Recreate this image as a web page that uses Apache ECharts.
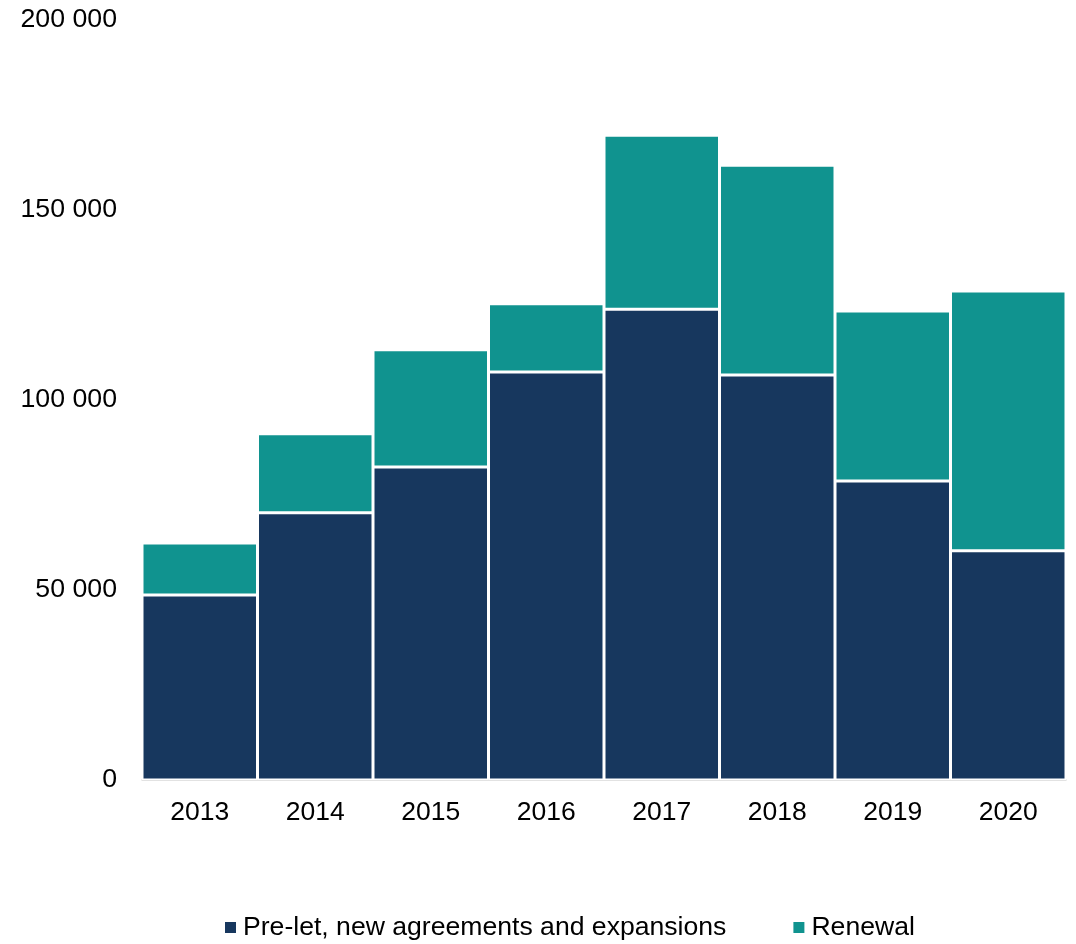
<!DOCTYPE html>
<html>
<head>
<meta charset="utf-8">
<script src="https://cdn.jsdelivr.net/npm/echarts@6/dist/echarts.min.js"></script>
<style>html,body{margin:0;padding:0;background:#fff}#c{width:1076px;height:944px}</style>
</head>
<body>
<div id="c"></div>
<script>
const categories = ['2013','2014','2015','2016','2017','2018','2019','2020'];
const preLet = [48700, 70300, 82400, 107400, 123900, 106600, 78700, 60300];
const renewal = [13700, 20800, 30800, 17900, 45800, 55200, 44700, 68400];
const seriesNames = ['Pre-let, new agreements and expansions', 'Renewal'];

const chart = echarts.init(document.getElementById('c'));
const font = 'Liberation Sans, Arial, sans-serif';
chart.setOption({
  animation: false,
  grid: {left: 142, right: 10, top: 20, bottom: 164},
  legend: {
    top: 909, left: 218, itemWidth: 13, itemHeight: 13, itemGap: 65,
    icon: 'rect',
    textStyle: {fontFamily: font, fontSize: 26.6, color: '#000', padding: [0, 0, 0, 1]},
    data: seriesNames
  },
  xAxis: {
    type: 'category', data: categories,
    axisLine: {lineStyle: {color: '#d9d9d9', width: 1.5}},
    axisTick: {show: false},
    axisLabel: {fontFamily: font, fontSize: 26.5, color: '#000', margin: 19}
  },
  yAxis: {
    type: 'value', min: 0, max: 200000, interval: 50000,
    splitLine: {show: false},
    axisLine: {show: false}, axisTick: {show: false},
    axisLabel: {fontFamily: font, fontSize: 26.7, color: '#000', margin: 25,
      formatter: v => String(v).replace(/\B(?=(\d{3})+(?!\d))/g, ' ')}
  },
  series: [
    {name: seriesNames[0], type: 'bar', stack: 's', data: preLet, barCategoryGap: 0,
     itemStyle: {color: '#17375e', borderColor: '#fff', borderWidth: 1.5}},
    {name: seriesNames[1], type: 'bar', stack: 's', data: renewal, barCategoryGap: 0,
     itemStyle: {color: '#10938f', borderColor: '#fff', borderWidth: 1.5}}
  ]
});
</script>
</body>
</html>
